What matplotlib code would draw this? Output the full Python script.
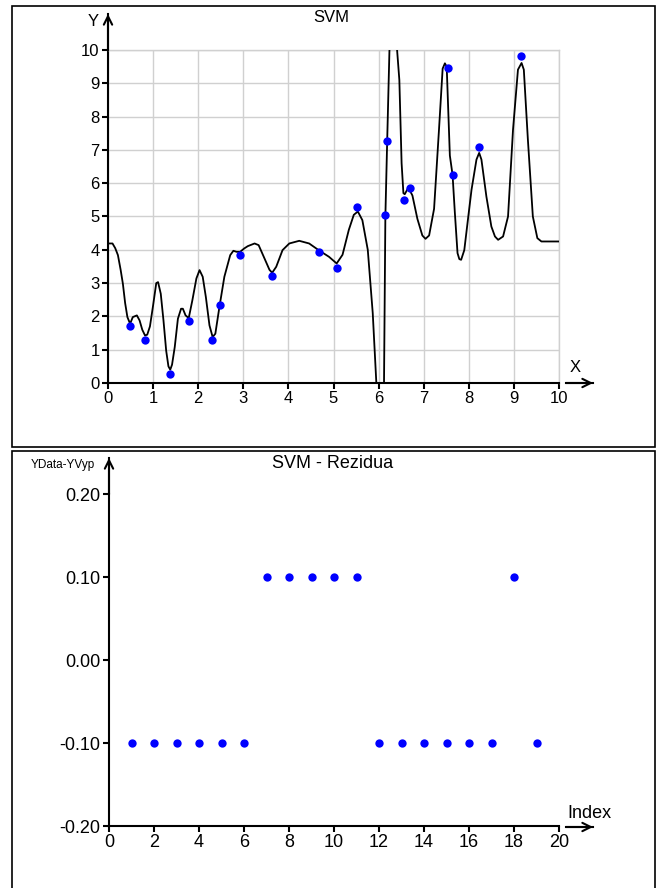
import numpy as np
import matplotlib
matplotlib.use('Agg')
import matplotlib.pyplot as plt
from matplotlib.patches import Rectangle

plt.rcParams['font.family'] = ['Liberation Sans', 'DejaVu Sans']
NARROW = ['Liberation Sans Narrow', 'Liberation Sans', 'DejaVu Sans']

# measured data points (top panel)
data_x = [0.49, 0.83, 1.38, 1.79, 2.31, 2.48, 2.93, 3.64, 4.67, 5.07,
          5.52, 6.15, 6.18, 6.57, 6.69, 7.53, 7.65, 8.22, 9.16]
data_y = [1.70, 1.30, 0.26, 1.85, 1.30, 2.33, 3.84, 3.21, 3.92, 3.44,
          5.28, 5.04, 7.28, 5.51, 5.85, 9.45, 6.24, 7.09, 9.81]

# SVM fit curve
curve_x = [0.00, 0.10, 0.16, 0.22, 0.28, 0.33, 0.38, 0.43, 0.49, 0.55,
           0.64, 0.70, 0.76, 0.82, 0.87, 0.93, 1.00, 1.07, 1.11, 1.17,
           1.23, 1.29, 1.34, 1.38, 1.42, 1.48, 1.55, 1.62, 1.66, 1.72,
           1.79, 1.87, 1.96, 2.03, 2.10, 2.17, 2.25, 2.32, 2.38, 2.47,
           2.58, 2.71, 2.78, 2.85, 2.93, 3.02, 3.10, 3.25, 3.34, 3.47,
           3.58, 3.64, 3.73, 3.87, 4.02, 4.24, 4.46, 4.67, 4.90, 5.07,
           5.20, 5.34, 5.45, 5.54, 5.64, 5.76, 5.87, 5.95, 6.00, 6.08,
           6.12, 6.15, 6.19, 6.24, 6.30, 6.36, 6.41, 6.46, 6.51, 6.55,
           6.58, 6.66, 6.75, 6.86, 6.97, 7.04, 7.12, 7.23, 7.34, 7.42,
           7.47, 7.51, 7.58, 7.64, 7.69, 7.75, 7.79, 7.83, 7.90, 7.98,
           8.06, 8.17, 8.23, 8.28, 8.39, 8.50, 8.58, 8.65, 8.76, 8.87,
           8.98, 9.09, 9.17, 9.22, 9.31, 9.42, 9.52, 9.61, 10.0]
curve_y = [4.19, 4.19, 4.05, 3.84, 3.40, 2.98, 2.40, 1.98, 1.78, 1.98,
           2.03, 1.88, 1.60, 1.43, 1.45, 1.70, 2.33, 3.00, 3.03, 2.68,
           1.88, 0.97, 0.50, 0.40, 0.55, 1.08, 1.93, 2.23, 2.23, 2.03,
           1.95, 2.48, 3.14, 3.39, 3.19, 2.58, 1.73, 1.38, 1.48, 2.28,
           3.19, 3.84, 3.97, 3.94, 3.94, 4.04, 4.11, 4.19, 4.14, 3.74,
           3.40, 3.31, 3.49, 3.99, 4.19, 4.27, 4.19, 3.99, 3.79, 3.59,
           3.85, 4.60, 5.05, 5.15, 4.89, 4.00, 2.10, 0.00, -1.50, -1.50,
           0.00, 5.00, 7.25, 9.97, 11.5, 11.5, 10.0, 9.10, 6.60, 5.70,
           5.67, 5.87, 5.63, 4.93, 4.43, 4.33, 4.43, 5.23, 7.63, 9.44,
           9.60, 9.50, 6.83, 6.25, 5.13, 3.90, 3.72, 3.70, 3.99, 4.90,
           5.80, 6.71, 6.91, 6.71, 5.60, 4.70, 4.40, 4.30, 4.40, 5.00,
           7.60, 9.41, 9.61, 9.41, 7.31, 5.00, 4.35, 4.25, 4.25]

# residuals (bottom panel)
res_index = list(range(1, 20))
res_value = [-0.1, -0.1, -0.1, -0.1, -0.1, -0.1, 0.1, 0.1, 0.1, 0.1,
             0.1, -0.1, -0.1, -0.1, -0.1, -0.1, -0.1, 0.1, -0.1]
res_yticks = [-0.2, -0.1, 0.0, 0.1, 0.2]
res_yticklabels = ['-0.20', '-0.10', '0.00', '0.10', '0.20']

W, H = 662, 888
fig = plt.figure(figsize=(W / 100, H / 100), dpi=100)


def fx(px):
    return px / W


def fy(py):
    return 1 - py / H


# panel frames
fig.patches.append(Rectangle((fx(12), fy(447)), fx(643), 441 / H, fill=False,
                             edgecolor='black', lw=1.2, transform=fig.transFigure))
fig.patches.append(Rectangle((fx(12), fy(895)), fx(643), 444 / H, fill=False,
                             edgecolor='black', lw=1.2, transform=fig.transFigure))


def arrow(x0, y0, x1, y1):
    fig.add_artist(plt.Line2D([fx(x0), fx(x1)], [fy(y0), fy(y1)], color='black',
                              lw=1.5, transform=fig.transFigure))
    plt.annotate('', xy=(fx(x1), fy(y1)), xytext=(fx(x0), fy(y0)),
                 xycoords='figure fraction', textcoords='figure fraction',
                 arrowprops=dict(arrowstyle='->,head_length=0.6,head_width=0.3',
                                 color='black', lw=1.5, shrinkA=0, shrinkB=0))


# ---- top panel ----
ax1 = fig.add_axes([fx(108), fy(383), 451 / W, 333 / H])
ax1.plot(curve_x, curve_y, color='black', lw=1.3, zorder=3)
ax1.plot(data_x, data_y, 'o', color='#0000ff', ms=6, mec='none', zorder=4, clip_on=False)
ax1.set_xlim(0, 10)
ax1.set_ylim(0, 10)
ax1.set_xticks(range(0, 11))
ax1.set_yticks(range(0, 11))
ax1.grid(True, color='#d0d0d0', lw=1.0)
ax1.set_axisbelow(True)
for s in ['top', 'right']:
    ax1.spines[s].set_color('#d0d0d0')
    ax1.spines[s].set_linewidth(1.0)
for s in ['left', 'bottom']:
    ax1.spines[s].set_linewidth(1.5)
ax1.tick_params(direction='out', length=4, width=1.5, labelsize=12, pad=2)

arrow(108, 50, 108, 14)
arrow(566, 383, 593, 383)
fig.text(fx(93), fy(21), 'Y', fontsize=12, ha='center', va='center')
fig.text(fx(575), fy(368), 'X', fontsize=12, ha='center', va='center')
fig.text(fx(331), fy(18), 'SVM', fontsize=12, ha='center', va='center')

# ---- bottom panel ----
ax2 = fig.add_axes([fx(109), fy(826), 450 / W, 332 / H])
ax2.plot(res_index, res_value, 'o', color='#0000ff', ms=6, mec='none', clip_on=False)
ax2.set_xlim(0, 20)
ax2.set_ylim(-0.2, 0.2)
ax2.set_xticks(range(0, 21, 2))
ax2.set_yticks(res_yticks)
ax2.set_yticklabels(res_yticklabels)
for s in ['top', 'right']:
    ax2.spines[s].set_visible(False)
for s in ['left', 'bottom']:
    ax2.spines[s].set_linewidth(1.5)
ax2.tick_params(direction='out', length=4, width=1.5, labelsize=13, pad=2)
for lab in ax2.get_xticklabels() + ax2.get_yticklabels():
    lab.set_family(NARROW)

arrow(109, 494, 109, 458)
arrow(566, 827, 593, 827)
fig.text(fx(63), fy(465), 'YData-YVyp', fontsize=8.5, ha='center', va='center', family=NARROW)
fig.text(fx(589), fy(813), 'Index', fontsize=13, ha='center', va='center', family=NARROW)
fig.text(fx(333), fy(463), 'SVM - Rezidua', fontsize=13, ha='center', va='center', family=NARROW)

fig.savefig('out.png', dpi=100)
